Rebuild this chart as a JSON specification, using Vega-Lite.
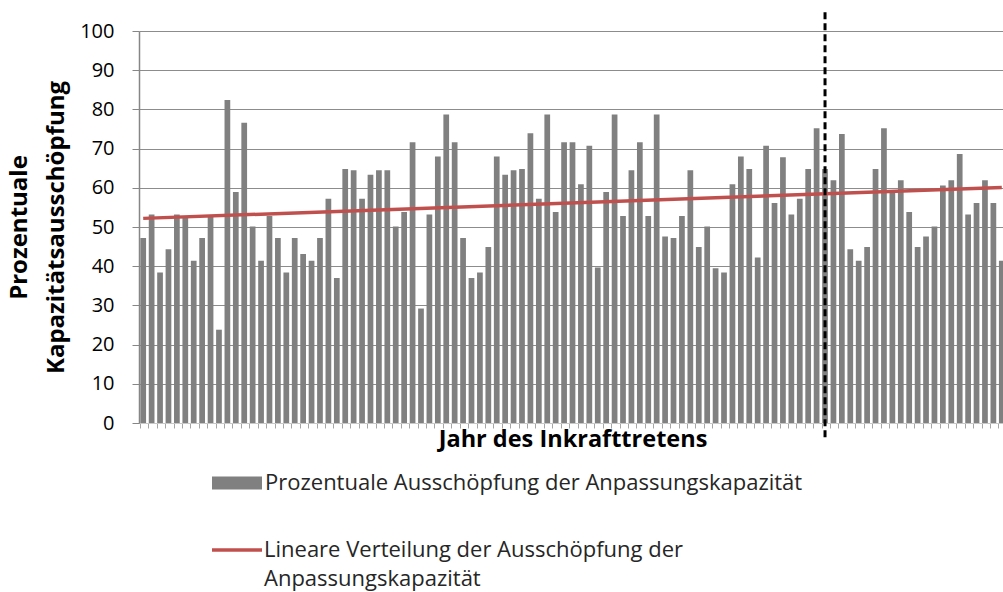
{
  "$schema": "https://vega.github.io/schema/vega-lite/v6.json",
  "autosize": "none",
  "width": 867,
  "height": 392,
  "padding": {"left": 139, "top": 31, "right": 0, "bottom": 169},
  "background": "white",
  "config": {"font": "Open Sans", "view": {"stroke": null}},
  "datasets": {
    "bars": [
      {"i":0,"v":47.2,"s":"Prozentuale Ausschöpfung der Anpassungskapazität"},
      {"i":1,"v":53.2,"s":"Prozentuale Ausschöpfung der Anpassungskapazität"},
      {"i":2,"v":38.4,"s":"Prozentuale Ausschöpfung der Anpassungskapazität"},
      {"i":3,"v":44.3,"s":"Prozentuale Ausschöpfung der Anpassungskapazität"},
      {"i":4,"v":53.2,"s":"Prozentuale Ausschöpfung der Anpassungskapazität"},
      {"i":5,"v":52.8,"s":"Prozentuale Ausschöpfung der Anpassungskapazität"},
      {"i":6,"v":41.4,"s":"Prozentuale Ausschöpfung der Anpassungskapazität"},
      {"i":7,"v":47.2,"s":"Prozentuale Ausschöpfung der Anpassungskapazität"},
      {"i":8,"v":52.8,"s":"Prozentuale Ausschöpfung der Anpassungskapazität"},
      {"i":9,"v":23.8,"s":"Prozentuale Ausschöpfung der Anpassungskapazität"},
      {"i":10,"v":82.4,"s":"Prozentuale Ausschöpfung der Anpassungskapazität"},
      {"i":11,"v":58.9,"s":"Prozentuale Ausschöpfung der Anpassungskapazität"},
      {"i":12,"v":76.6,"s":"Prozentuale Ausschöpfung der Anpassungskapazität"},
      {"i":13,"v":50.1,"s":"Prozentuale Ausschöpfung der Anpassungskapazität"},
      {"i":14,"v":41.4,"s":"Prozentuale Ausschöpfung der Anpassungskapazität"},
      {"i":15,"v":52.8,"s":"Prozentuale Ausschöpfung der Anpassungskapazität"},
      {"i":16,"v":47.2,"s":"Prozentuale Ausschöpfung der Anpassungskapazität"},
      {"i":17,"v":38.4,"s":"Prozentuale Ausschöpfung der Anpassungskapazität"},
      {"i":18,"v":47.2,"s":"Prozentuale Ausschöpfung der Anpassungskapazität"},
      {"i":19,"v":43.1,"s":"Prozentuale Ausschöpfung der Anpassungskapazität"},
      {"i":20,"v":41.4,"s":"Prozentuale Ausschöpfung der Anpassungskapazität"},
      {"i":21,"v":47.2,"s":"Prozentuale Ausschöpfung der Anpassungskapazität"},
      {"i":22,"v":57.2,"s":"Prozentuale Ausschöpfung der Anpassungskapazität"},
      {"i":23,"v":37.0,"s":"Prozentuale Ausschöpfung der Anpassungskapazität"},
      {"i":24,"v":64.8,"s":"Prozentuale Ausschöpfung der Anpassungskapazität"},
      {"i":25,"v":64.5,"s":"Prozentuale Ausschöpfung der Anpassungskapazität"},
      {"i":26,"v":57.2,"s":"Prozentuale Ausschöpfung der Anpassungskapazität"},
      {"i":27,"v":63.3,"s":"Prozentuale Ausschöpfung der Anpassungskapazität"},
      {"i":28,"v":64.5,"s":"Prozentuale Ausschöpfung der Anpassungskapazität"},
      {"i":29,"v":64.5,"s":"Prozentuale Ausschöpfung der Anpassungskapazität"},
      {"i":30,"v":50.1,"s":"Prozentuale Ausschöpfung der Anpassungskapazität"},
      {"i":31,"v":53.8,"s":"Prozentuale Ausschöpfung der Anpassungskapazität"},
      {"i":32,"v":71.6,"s":"Prozentuale Ausschöpfung der Anpassungskapazität"},
      {"i":33,"v":29.2,"s":"Prozentuale Ausschöpfung der Anpassungskapazität"},
      {"i":34,"v":53.2,"s":"Prozentuale Ausschöpfung der Anpassungskapazität"},
      {"i":35,"v":68.0,"s":"Prozentuale Ausschöpfung der Anpassungskapazität"},
      {"i":36,"v":78.7,"s":"Prozentuale Ausschöpfung der Anpassungskapazität"},
      {"i":37,"v":71.6,"s":"Prozentuale Ausschöpfung der Anpassungskapazität"},
      {"i":38,"v":47.2,"s":"Prozentuale Ausschöpfung der Anpassungskapazität"},
      {"i":39,"v":37.0,"s":"Prozentuale Ausschöpfung der Anpassungskapazität"},
      {"i":40,"v":38.4,"s":"Prozentuale Ausschöpfung der Anpassungskapazität"},
      {"i":41,"v":44.9,"s":"Prozentuale Ausschöpfung der Anpassungskapazität"},
      {"i":42,"v":68.0,"s":"Prozentuale Ausschöpfung der Anpassungskapazität"},
      {"i":43,"v":63.3,"s":"Prozentuale Ausschöpfung der Anpassungskapazität"},
      {"i":44,"v":64.5,"s":"Prozentuale Ausschöpfung der Anpassungskapazität"},
      {"i":45,"v":64.8,"s":"Prozentuale Ausschöpfung der Anpassungskapazität"},
      {"i":46,"v":73.9,"s":"Prozentuale Ausschöpfung der Anpassungskapazität"},
      {"i":47,"v":57.2,"s":"Prozentuale Ausschöpfung der Anpassungskapazität"},
      {"i":48,"v":78.7,"s":"Prozentuale Ausschöpfung der Anpassungskapazität"},
      {"i":49,"v":53.8,"s":"Prozentuale Ausschöpfung der Anpassungskapazität"},
      {"i":50,"v":71.6,"s":"Prozentuale Ausschöpfung der Anpassungskapazität"},
      {"i":51,"v":71.6,"s":"Prozentuale Ausschöpfung der Anpassungskapazität"},
      {"i":52,"v":60.9,"s":"Prozentuale Ausschöpfung der Anpassungskapazität"},
      {"i":53,"v":70.7,"s":"Prozentuale Ausschöpfung der Anpassungskapazität"},
      {"i":54,"v":39.7,"s":"Prozentuale Ausschöpfung der Anpassungskapazität"},
      {"i":55,"v":58.9,"s":"Prozentuale Ausschöpfung der Anpassungskapazität"},
      {"i":56,"v":78.7,"s":"Prozentuale Ausschöpfung der Anpassungskapazität"},
      {"i":57,"v":52.8,"s":"Prozentuale Ausschöpfung der Anpassungskapazität"},
      {"i":58,"v":64.5,"s":"Prozentuale Ausschöpfung der Anpassungskapazität"},
      {"i":59,"v":71.6,"s":"Prozentuale Ausschöpfung der Anpassungskapazität"},
      {"i":60,"v":52.8,"s":"Prozentuale Ausschöpfung der Anpassungskapazität"},
      {"i":61,"v":78.7,"s":"Prozentuale Ausschöpfung der Anpassungskapazität"},
      {"i":62,"v":47.6,"s":"Prozentuale Ausschöpfung der Anpassungskapazität"},
      {"i":63,"v":47.2,"s":"Prozentuale Ausschöpfung der Anpassungskapazität"},
      {"i":64,"v":52.8,"s":"Prozentuale Ausschöpfung der Anpassungskapazität"},
      {"i":65,"v":64.5,"s":"Prozentuale Ausschöpfung der Anpassungskapazität"},
      {"i":66,"v":44.9,"s":"Prozentuale Ausschöpfung der Anpassungskapazität"},
      {"i":67,"v":50.1,"s":"Prozentuale Ausschöpfung der Anpassungskapazität"},
      {"i":68,"v":39.5,"s":"Prozentuale Ausschöpfung der Anpassungskapazität"},
      {"i":69,"v":38.4,"s":"Prozentuale Ausschöpfung der Anpassungskapazität"},
      {"i":70,"v":60.9,"s":"Prozentuale Ausschöpfung der Anpassungskapazität"},
      {"i":71,"v":68.0,"s":"Prozentuale Ausschöpfung der Anpassungskapazität"},
      {"i":72,"v":64.8,"s":"Prozentuale Ausschöpfung der Anpassungskapazität"},
      {"i":73,"v":42.2,"s":"Prozentuale Ausschöpfung der Anpassungskapazität"},
      {"i":74,"v":70.7,"s":"Prozentuale Ausschöpfung der Anpassungskapazität"},
      {"i":75,"v":56.1,"s":"Prozentuale Ausschöpfung der Anpassungskapazität"},
      {"i":76,"v":67.8,"s":"Prozentuale Ausschöpfung der Anpassungskapazität"},
      {"i":77,"v":53.2,"s":"Prozentuale Ausschöpfung der Anpassungskapazität"},
      {"i":78,"v":57.2,"s":"Prozentuale Ausschöpfung der Anpassungskapazität"},
      {"i":79,"v":64.8,"s":"Prozentuale Ausschöpfung der Anpassungskapazität"},
      {"i":80,"v":75.2,"s":"Prozentuale Ausschöpfung der Anpassungskapazität"},
      {"i":81,"v":64.8,"s":"Prozentuale Ausschöpfung der Anpassungskapazität"},
      {"i":82,"v":61.9,"s":"Prozentuale Ausschöpfung der Anpassungskapazität"},
      {"i":83,"v":73.7,"s":"Prozentuale Ausschöpfung der Anpassungskapazität"},
      {"i":84,"v":44.3,"s":"Prozentuale Ausschöpfung der Anpassungskapazität"},
      {"i":85,"v":41.4,"s":"Prozentuale Ausschöpfung der Anpassungskapazität"},
      {"i":86,"v":44.9,"s":"Prozentuale Ausschöpfung der Anpassungskapazität"},
      {"i":87,"v":64.8,"s":"Prozentuale Ausschöpfung der Anpassungskapazität"},
      {"i":88,"v":75.2,"s":"Prozentuale Ausschöpfung der Anpassungskapazität"},
      {"i":89,"v":58.9,"s":"Prozentuale Ausschöpfung der Anpassungskapazität"},
      {"i":90,"v":61.9,"s":"Prozentuale Ausschöpfung der Anpassungskapazität"},
      {"i":91,"v":53.8,"s":"Prozentuale Ausschöpfung der Anpassungskapazität"},
      {"i":92,"v":44.9,"s":"Prozentuale Ausschöpfung der Anpassungskapazität"},
      {"i":93,"v":47.6,"s":"Prozentuale Ausschöpfung der Anpassungskapazität"},
      {"i":94,"v":50.1,"s":"Prozentuale Ausschöpfung der Anpassungskapazität"},
      {"i":95,"v":60.6,"s":"Prozentuale Ausschöpfung der Anpassungskapazität"},
      {"i":96,"v":61.9,"s":"Prozentuale Ausschöpfung der Anpassungskapazität"},
      {"i":97,"v":68.6,"s":"Prozentuale Ausschöpfung der Anpassungskapazität"},
      {"i":98,"v":53.2,"s":"Prozentuale Ausschöpfung der Anpassungskapazität"},
      {"i":99,"v":56.1,"s":"Prozentuale Ausschöpfung der Anpassungskapazität"},
      {"i":100,"v":61.9,"s":"Prozentuale Ausschöpfung der Anpassungskapazität"},
      {"i":101,"v":56.1,"s":"Prozentuale Ausschöpfung der Anpassungskapazität"},
      {"i":102,"v":41.4,"s":"Prozentuale Ausschöpfung der Anpassungskapazität"}
    ],
    "trend": [
      {"i":0,"v":52.2,"s":"Lineare Verteilung der Ausschöpfung der Anpassungskapazität"},
      {"i":102,"v":60.1,"s":"Lineare Verteilung der Ausschöpfung der Anpassungskapazität"}
    ],
    "marker": [
      {"i":81,"v":104.8,"v2":-4.3}
    ]
  },
  "layer": [
    {
      "data": {"name": "bars"},
      "mark": {"type": "bar"},
      "encoding": {
        "x": {
          "field": "i", "type": "ordinal",
          "scale": {"paddingInner": 0.32, "paddingOuter": 0.16},
          "axis": {
            "labels": false,
            "title": "Jahr des Inkrafttretens",
            "titleFontSize": 23.5,
            "titleFontWeight": "bold",
            "titleColor": "#000000",
            "titlePadding": -1,
            "ticks": true,
            "tickSize": 5,
            "tickColor": "#a6a6a6",
            "bandPosition": 0,
            "domainColor": "#c8c8c8",
            "grid": false
          }
        },
        "y": {
          "field": "v", "type": "quantitative",
          "scale": {"domain": [0, 100], "nice": false},
          "axis": {
            "values": [0, 10, 20, 30, 40, 50, 60, 70, 80, 90, 100],
            "tickCount": 11,
            "labelOverlap": false,
            "title": ["Prozentuale", "Kapazitätsausschöpfung"],
            "titleFontSize": 24,
            "titleFontWeight": "bold",
            "titleColor": "#000000",
            "titleLineHeight": 37,
            "titlePadding": 11,
            "labelFontSize": 20,
            "labelColor": "#000000",
            "labelPadding": 18,
            "tickSize": 7,
            "tickColor": "#868686",
            "domainColor": "#868686",
            "domainWidth": 1.5,
            "grid": true,
            "gridColor": "#8c8c8c",
            "gridWidth": 1.2
          }
        },
        "fill": {
          "field": "s", "type": "nominal",
          "scale": {"range": ["#808080"]},
          "legend": {
            "orient": "none",
            "legendX": 73,
            "legendY": 427,
            "title": null,
            "padding": 0,
            "symbolType": "M-1,-0.26L1,-0.26L1,0.26L-1,0.26Z",
            "symbolSize": 2500,
            "symbolStrokeWidth": 0,
            "labelFontSize": 22,
            "labelColor": "#262626",
            "labelLimit": 900,
            "labelOffset": 3
          }
        }
      }
    },
    {
      "data": {"name": "trend"},
      "mark": {"type": "line", "strokeWidth": 3.5},
      "encoding": {
        "x": {"field": "i", "type": "ordinal"},
        "y": {"field": "v", "type": "quantitative"},
        "stroke": {
          "field": "s", "type": "nominal",
          "scale": {"range": ["#C0504D"]},
          "legend": {
            "orient": "none",
            "legendX": 71,
            "legendY": 492,
            "title": null,
            "padding": 0,
            "symbolType": "stroke",
            "symbolSize": 2500,
            "symbolStrokeWidth": 3.5,
            "labelFontSize": 22,
            "labelColor": "#262626",
            "labelLimit": 900,
            "labelOffset": 0,
            "labelExpr": "['Lineare Verteilung der Ausschöpfung der', 'Anpassungskapazität']",
            "encode": {"labels": {"update": {"lineHeight": {"value": 29}}}}
          }
        }
      }
    },
    {
      "data": {"name": "marker"},
      "mark": {"type": "rule", "color": "#000000", "strokeWidth": 3, "strokeDash": [7, 4]},
      "encoding": {
        "x": {"field": "i", "type": "ordinal"},
        "y": {"field": "v", "type": "quantitative"},
        "y2": {"field": "v2"}
      }
    }
  ]
}
